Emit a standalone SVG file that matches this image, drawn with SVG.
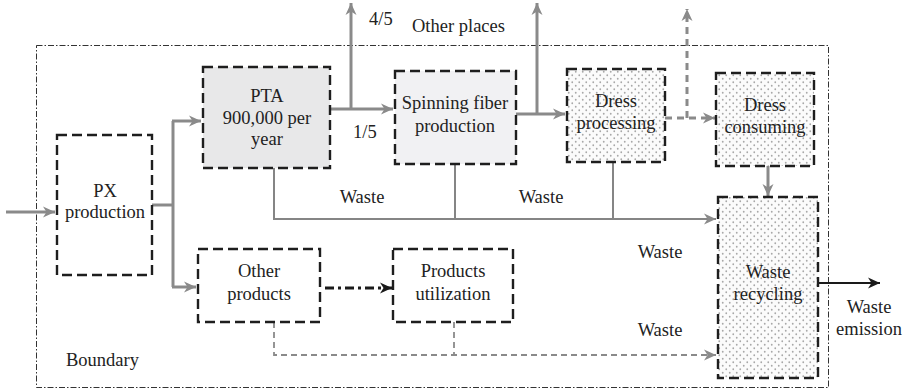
<svg xmlns="http://www.w3.org/2000/svg" width="905" height="390" viewBox="0 0 905 390" font-family="'Liberation Serif', 'Times New Roman', serif">
  <defs>
    <style>
      text { font-family: 'Liberation Serif', 'Times New Roman', serif; font-size: 18.5px; fill: #222; }
      .c { text-anchor: middle; }
      .box { stroke: #1e1e1e; stroke-width: 2.4; stroke-dasharray: 10 5; }
      .flow { fill: none; stroke: #8a8a8a; stroke-width: 3; }
      .waste { fill: none; stroke: #858585; stroke-width: 2; }
      .dashflow { fill: none; stroke: #8a8a8a; stroke-width: 3; stroke-dasharray: 7 5; }
      .dashwaste { fill: none; stroke: #8a8a8a; stroke-width: 1.8; stroke-dasharray: 6 4; }
    </style>
    <pattern id="dots" width="7" height="7" patternUnits="userSpaceOnUse">
      <rect width="7" height="7" fill="#fbfbfb"/>
      <circle cx="1.75" cy="1.75" r="0.9" fill="#a8a8a8"/>
      <circle cx="5.25" cy="5.25" r="0.9" fill="#a8a8a8"/>
    </pattern>
    <marker id="ag" markerUnits="userSpaceOnUse" markerWidth="14" markerHeight="12" refX="12" refY="6" orient="auto">
      <path d="M0,0.5 L12,6 L0,11.5 L3.5,6 z" fill="#8a8a8a"/>
    </marker>
    <marker id="ak" markerUnits="userSpaceOnUse" markerWidth="14" markerHeight="12" refX="12" refY="6" orient="auto">
      <path d="M0,0.5 L12,6 L0,11.5 L3.5,6 z" fill="#1a1a1a"/>
    </marker>
  </defs>

  <rect width="905" height="390" fill="#ffffff"/>

  <!-- system boundary -->
  <g id="boundary">
    <rect x="36.5" y="45.5" width="792" height="342" fill="none" stroke="#333" stroke-width="1" stroke-dasharray="6 2 1.5 2"/>
    <text x="66" y="366" font-family="'Liberation Serif', serif">Boundary</text>
  </g>

  <!-- connectors -->
  <g id="connectors">
    <!-- feed into PX -->
    <line x1="6" y1="212" x2="55" y2="212" class="flow" marker-end="url(#ag)"/>
    <!-- PX split -->
    <polyline points="152,205 173,205" class="flow"/>
    <polyline points="173,121 173,287" class="flow"/>
    <line x1="172" y1="121" x2="201" y2="121" class="flow" marker-end="url(#ag)"/>
    <line x1="172" y1="287" x2="196" y2="287" class="flow" marker-end="url(#ag)"/>
    <!-- PTA out -->
    <line x1="330" y1="109" x2="393" y2="109" class="flow" marker-end="url(#ag)"/>
    <line x1="351" y1="110" x2="351" y2="3" class="flow" marker-end="url(#ag)"/>
    <!-- spinning out -->
    <line x1="516" y1="114" x2="565" y2="114" class="flow" marker-end="url(#ag)"/>
    <line x1="537" y1="115" x2="537" y2="3" class="flow" marker-end="url(#ag)"/>
    <!-- dress processing out (dashed) -->
    <line x1="665" y1="118" x2="715" y2="118" class="dashflow" marker-end="url(#ag)"/>
    <line x1="687" y1="118" x2="687" y2="9" class="dashflow" marker-end="url(#ag)"/>
    <!-- dress consuming to recycling -->
    <line x1="768" y1="166" x2="768" y2="196" class="flow" marker-end="url(#ag)"/>
    <!-- waste collection -->
    <polyline points="274,168 274,219 716,219" class="waste" marker-end="url(#ag)"/>
    <line x1="455" y1="164" x2="455" y2="219" class="waste"/>
    <line x1="613" y1="162" x2="613" y2="219" class="waste"/>
    <!-- other products to utilization -->
    <line x1="325" y1="288" x2="392" y2="288" stroke="#1a1a1a" stroke-width="3" stroke-dasharray="9 4 3 4" marker-end="url(#ak)"/>
    <!-- dashed waste from other products / utilization -->
    <polyline points="274,322 274,355 716,355" class="dashwaste" marker-end="url(#ag)"/>
    <line x1="454" y1="322" x2="454" y2="355" class="dashwaste"/>
    <!-- emission -->
    <line x1="818" y1="283" x2="880" y2="283" stroke="#1a1a1a" stroke-width="2" marker-end="url(#ak)"/>

    <text x="369" y="25">4/5</text>
    <text x="412" y="32">Other places</text>
    <text x="353" y="138">1/5</text>
    <text x="362" y="203" class="c">Waste</text>
    <text x="541" y="203" class="c">Waste</text>
    <text x="660" y="258" class="c">Waste</text>
    <text x="660" y="336" class="c">Waste</text>
    <text x="869" y="313" class="c">Waste</text>
    <text x="869" y="335" class="c">emission</text>
  </g>

  <g id="px">
    <rect x="57" y="135" width="95" height="140" fill="#fff" class="box"/>
    <text x="105" y="197" class="c">PX</text>
    <text x="105" y="218" class="c">production</text>
  </g>

  <g id="pta">
    <rect x="203" y="67" width="127" height="101" fill="#e8e8e9" class="box"/>
    <text x="267" y="102" class="c">PTA</text>
    <text x="267" y="124" class="c">900,000 per</text>
    <text x="267" y="145" class="c">year</text>
  </g>

  <g id="spinning">
    <rect x="395" y="71" width="121" height="93" fill="#f1f1f3" class="box"/>
    <text x="455" y="109" class="c">Spinning fiber</text>
    <text x="455" y="132" class="c">production</text>
  </g>

  <g id="dress-processing">
    <rect x="567" y="69" width="98" height="93" fill="url(#dots)" class="box"/>
    <text x="616" y="107" class="c">Dress</text>
    <text x="616" y="129" class="c">processing</text>
  </g>

  <g id="dress-consuming">
    <rect x="716" y="73" width="98" height="93" fill="url(#dots)" class="box"/>
    <text x="765" y="111" class="c">Dress</text>
    <text x="765" y="133" class="c">consuming</text>
  </g>

  <g id="waste-recycling">
    <rect x="718" y="197" width="100" height="181" fill="url(#dots)" class="box"/>
    <text x="768" y="278" class="c">Waste</text>
    <text x="768" y="300" class="c">recycling</text>
  </g>

  <g id="other-products">
    <rect x="198" y="249" width="122" height="73" fill="#fff" class="box"/>
    <text x="259" y="277" class="c">Other</text>
    <text x="259" y="300" class="c">products</text>
  </g>

  <g id="products-utilization">
    <rect x="393" y="249" width="120" height="73" fill="#fff" class="box"/>
    <text x="453" y="277" class="c">Products</text>
    <text x="453" y="300" class="c">utilization</text>
  </g>
</svg>
